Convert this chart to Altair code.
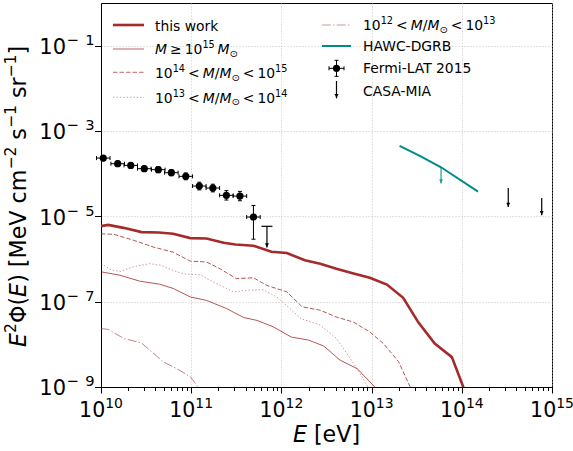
import altair as alt
import pandas as pd

FONT = "DejaVu Sans"
BROWN = "#a52a2a"
TEAL = "#008b8b"

# ---------------------------------------------------------------------------
# Data: log10 E [eV] and log10 E^2 Phi(E) [MeV cm^-2 s^-1 sr^-1]
# ---------------------------------------------------------------------------
total_logE = [10.0, 10.08, 10.25, 10.45, 10.64, 10.80, 10.99, 11.17, 11.36, 11.49,
              11.69, 11.89, 12.06, 12.26, 12.43, 12.61, 12.80, 12.98, 13.17, 13.35,
              13.52, 13.70, 13.89, 14.02]
total_logF = [-5.23, -5.20, -5.27, -5.37, -5.38, -5.41, -5.51, -5.52, -5.62, -5.66,
              -5.69, -5.83, -5.86, -6.03, -6.11, -6.23, -6.34, -6.44, -6.60, -6.91,
              -7.49, -7.98, -8.30, -9.02]

m15_logE = [10.0, 10.21, 10.43, 10.65, 10.80, 10.99, 11.17, 11.39, 11.58, 11.73,
            11.91, 12.11, 12.30, 12.47, 12.65, 12.84, 13.04]
m15_logF = [-6.30, -6.38, -6.52, -6.59, -6.69, -6.89, -6.97, -7.16, -7.37, -7.44,
            -7.59, -7.83, -7.90, -8.04, -8.37, -8.57, -9.01]

m14_logE = [10.0, 10.14, 10.36, 10.58, 10.80, 10.99, 11.17, 11.32, 11.50, 11.69,
            11.84, 12.06, 12.23, 12.43, 12.61, 12.80, 12.98, 13.13, 13.30, 13.43]
m14_logF = [-5.41, -5.42, -5.56, -5.72, -5.84, -6.05, -6.07, -6.23, -6.46, -6.44,
            -6.62, -6.77, -7.12, -7.20, -7.36, -7.48, -7.71, -7.98, -8.41, -9.01]

m13_logE = [10.0, 10.12, 10.22, 10.36, 10.54, 10.67, 10.80, 10.92, 11.10, 11.21,
            11.47, 11.65, 11.80, 11.95, 12.22, 12.43, 12.61, 12.84, 12.96]
m13_logF = [-6.11, -6.26, -6.29, -6.18, -6.11, -6.15, -6.27, -6.35, -6.37, -6.50,
            -6.77, -6.73, -6.72, -6.89, -7.40, -7.55, -7.86, -8.57, -9.01]

m12_logE = [10.0, 10.08, 10.25, 10.45, 10.69, 10.84, 10.99, 11.08]
m12_logF = [-7.63, -7.65, -7.86, -7.97, -8.41, -8.57, -8.76, -9.01]

hawc_logE = [13.31, 13.54, 13.77, 14.18]
hawc_logF = [-3.35, -3.59, -3.85, -4.42]
hawc_ul_logE = [13.77]
hawc_ul_top = [-3.85]
hawc_ul_tip = [-4.23]

fermi_logE = [10.025, 10.185, 10.33, 10.48, 10.635, 10.78, 10.94, 11.09, 11.24,
              11.39, 11.54, 11.69]
fermi_logF = [-3.635, -3.766, -3.806, -3.883, -3.906, -3.977, -4.063, -4.29, -4.337,
              -4.508, -4.525, -5.016]
fermi_err_up = [0.06, 0.06, 0.06, 0.06, 0.07, 0.07, 0.08, 0.09, 0.09, 0.11, 0.11, 0.27]
fermi_err_dn = [0.06, 0.06, 0.06, 0.06, 0.07, 0.07, 0.08, 0.09, 0.09, 0.11, 0.11, 0.52]
fermi_half_bin = 0.075
fermi_ul_logE = [11.84]
fermi_ul_top = [-5.234]
fermi_ul_tip = [-5.73]

casa_logE = [14.515, 14.886]
casa_top = [-4.337, -4.571]
casa_tip = [-4.782, -4.977]

x_tick_powers = [10, 11, 12, 13, 14, 15]
y_tick_powers = [-9, -7, -5, -3, -1]

# ---------------------------------------------------------------------------
W, H = 451, 384
PAD_L, PAD_T = 101, 3
x_scale = alt.Scale(type="log", domain=[1e10, 1e15], nice=False)
y_scale = alt.Scale(type="log", domain=[1e-9, 1e0], nice=False)

is_major = "abs(log(datum.value)/LN10 - round(log(datum.value)/LN10)) < 0.001"
x_values = [10.0 ** p for p in range(10, 16)] + [k * 10.0 ** p for p in range(10, 15) for k in range(2, 10)]
x_axis = alt.Axis(values=x_values, labels=False, title=None, grid=True,
                  tickSize={"condition": {"test": is_major, "value": 6}, "value": 3.5},
                  gridOpacity={"condition": {"test": is_major, "value": 1}, "value": 0})
y_axis = alt.Axis(values=[10.0 ** p for p in y_tick_powers], labels=False, title=None,
                  grid=True, tickSize=6.5)


def X(field):
    return alt.X(f"{field}:Q", scale=x_scale, axis=x_axis)


def Y(field):
    return alt.Y(f"{field}:Q", scale=y_scale, axis=y_axis)


def px(x):
    """page x -> view x"""
    return alt.value(x - PAD_L)


def py(y):
    """page y -> view y"""
    return alt.value(y - PAD_T)


def curve(logE, logF):
    return pd.DataFrame({"E": [10.0 ** v for v in logE], "F": [10.0 ** v for v in logF]})


def line(logE, logF, color, width, opacity=1.0, dash=None):
    kw = dict(color=color, strokeWidth=width, opacity=opacity, clip=True)
    if dash:
        kw["strokeDash"] = dash
    return alt.Chart(curve(logE, logF)).mark_line(**kw).encode(x=X("E"), y=Y("F"))


ARROW = "M0,0L-0.45,-1L0.45,-1Z"
HBAR = "M-1,0L1,0"
VBAR = "M0,-1L0,1"


def arrows(logE, top, tip, color, width=1.2, opacity=1.0, cap=None):
    df = pd.DataFrame({"E": [10.0 ** v for v in logE],
                       "top": [10.0 ** v for v in top],
                       "tip": [10.0 ** v for v in tip]})
    base = alt.Chart(df)
    out = [base.mark_rule(color=color, strokeWidth=width, opacity=opacity)
               .encode(x=X("E"), y=Y("top"), y2=alt.Y2("tip:Q")),
           base.mark_point(shape=ARROW, filled=True, size=72, color=color, opacity=opacity)
               .encode(x=X("E"), y=Y("tip"))]
    if cap:
        out.append(base.mark_point(shape=HBAR, filled=False, size=cap, stroke=color,
                                   strokeWidth=width, opacity=opacity)
                   .encode(x=X("E"), y=Y("top")))
    return out


layers = []

# model components
layers.append(line(m12_logE, m12_logF, BROWN, 1.0, 0.6, [8.9, 2.2, 1.4, 2.2]))
layers.append(line(m13_logE, m13_logF, BROWN, 1.0, 0.5, [1.4, 2.0]))
layers.append(line(m14_logE, m14_logF, BROWN, 1.0, 0.8, [4.5, 2.0]))
layers.append(line(m15_logE, m15_logF, BROWN, 1.0, 0.8))
layers.append(line(total_logE, total_logF, BROWN, 2.6))

# HAWC diffuse limit
layers.append(line(hawc_logE, hawc_logF, TEAL, 2.0))
layers += arrows(hawc_ul_logE, hawc_ul_top, hawc_ul_tip, TEAL, 1.4, 0.75)

# Fermi-LAT IGRB points with error bars
fermi = pd.DataFrame({
    "E": [10.0 ** v for v in fermi_logE],
    "F": [10.0 ** v for v in fermi_logF],
    "E_lo": [10.0 ** (v - fermi_half_bin) for v in fermi_logE],
    "E_hi": [10.0 ** (v + fermi_half_bin) for v in fermi_logE],
    "F_lo": [10.0 ** (v - d) for v, d in zip(fermi_logF, fermi_err_dn)],
    "F_hi": [10.0 ** (v + u) for v, u in zip(fermi_logF, fermi_err_up)],
})
fb = alt.Chart(fermi)
layers.append(fb.mark_rule(color="black", strokeWidth=1).encode(x=X("E_lo"), x2=alt.X2("E_hi:Q"), y=Y("F")))
layers.append(fb.mark_rule(color="black", strokeWidth=1).encode(x=X("E"), y=Y("F_lo"), y2=alt.Y2("F_hi:Q")))
for xf, yf, shp in [("E_lo", "F", VBAR), ("E_hi", "F", VBAR), ("E", "F_lo", HBAR), ("E", "F_hi", HBAR)]:
    layers.append(fb.mark_point(shape=shp, filled=False, size=16, stroke="black", strokeWidth=1, opacity=1)
                  .encode(x=X(xf), y=Y(yf)))
layers.append(fb.mark_point(shape="circle", filled=True, size=52, color="black", opacity=1)
              .encode(x=X("E"), y=Y("F")))
layers += arrows(fermi_ul_logE, fermi_ul_top, fermi_ul_tip, "black", 1.2, 1.0, cap=121)

# CASA-MIA upper limits
layers += arrows(casa_logE, casa_top, casa_tip, "black", 1.2)

# ---------------------------------------------------------------------------
# Text helpers (mathtext-like: italic symbols, super/subscripts)
# ---------------------------------------------------------------------------
GLYPH = {' ': 0.318, 'M': 0.863, '/': 0.337, '<': 0.838, '≥': 0.838, '⊙': 0.838,
         'E': 0.632, 'Φ': 0.790, '(': 0.390, ')': 0.390, '[': 0.390, ']': 0.390,
         'e': 0.615, 'V': 0.684, 'c': 0.550, 'm': 0.974, 's': 0.521, 'r': 0.411,
         '−': 0.838, '-': 0.361}
for d in "0123456789":
    GLYPH[d] = 0.636


def text_w(s, size):
    return sum(GLYPH.get(ch, 0.6) for ch in s) * size


one = pd.DataFrame({"k": [0]})


def rich(segments, x0, y0, size, vertical=False):
    """Lay out text pieces one after another; x0, y0 are page coordinates."""
    out, pos = [], 0.0
    for kind, s in segments:
        if kind == "sp":
            pos += s * size
            continue
        fs = size * (0.7 if kind in ("sup", "sub") else 1.0)
        lead = len(s) - len(s.lstrip(" "))
        pos += lead * GLYPH[" "] * fs
        s = s.lstrip(" ")
        shift = {"sup": -0.43 * size, "sub": 0.2 * size}.get(kind, 0.0)
        style = "italic" if kind == "it" else "normal"
        kw = dict(text=s, font=FONT, fontSize=fs, fontStyle=style, align="left",
                  baseline="alphabetic", color="black")
        if vertical:
            kw["angle"] = 270
            x, y = x0 + shift, y0 - pos
        else:
            x, y = x0 + pos, y0 + shift
        out.append(alt.Chart(one).mark_text(**kw).encode(x=px(x), y=py(y)))
        pos += text_w(s, fs)
    return out


def mass_bin(lo, hi):
    return [("rm", "10"), ("sup", str(lo)), ("sp", 0.22), ("rm", "<"), ("sp", 0.22),
            ("it", "M"), ("rm", "/"), ("it", "M"), ("sub", "⊙"), ("sp", 0.22),
            ("rm", "<"), ("sp", 0.22), ("rm", "10"), ("sup", str(hi))]


# tick labels
TICK_FS = 21
SUP_FS = 0.7 * TICK_FS
RAISE = 0.43 * TICK_FS
XT_FS = 20.5
XT_SUP = 0.68 * XT_FS
xt = pd.DataFrame({"E": [10.0 ** p for p in x_tick_powers], "base": "10",
                   "sup": [str(p) for p in x_tick_powers]})
x_tot = text_w("10", XT_FS) + text_w("10", XT_SUP)
layers.append(alt.Chart(xt).mark_text(font=FONT, fontSize=XT_FS, align="left", baseline="alphabetic",
                                      dx=-x_tot / 2, color="black")
              .encode(x=X("E"), y=py(417), text="base:N"))
layers.append(alt.Chart(xt).mark_text(font=FONT, fontSize=XT_SUP, align="left", baseline="alphabetic",
                                      dx=-x_tot / 2 + text_w("10", XT_FS), color="black")
              .encode(x=X("E"), y=py(417 - 0.43 * XT_FS), text="sup:N"))

# y labels: "10" + superscript minus sign + digit
yt = pd.DataFrame({"F": [10.0 ** p for p in y_tick_powers], "base": "10", "minus": "−",
                   "digit": [str(abs(p)) for p in y_tick_powers]})
Y_DY = 8.2
layers.append(alt.Chart(yt).mark_text(font=FONT, fontSize=TICK_FS, align="right", baseline="alphabetic",
                                      dy=Y_DY, color="black")
              .encode(x=px(66), y=Y("F"), text="base:N"))
layers.append(alt.Chart(yt).mark_text(font=FONT, fontSize=SUP_FS, align="left", baseline="alphabetic",
                                      dy=Y_DY - RAISE, color="black")
              .encode(x=px(66.5), y=Y("F"), text="minus:N"))
layers.append(alt.Chart(yt).mark_text(font=FONT, fontSize=SUP_FS, align="right", baseline="alphabetic",
                                      dy=Y_DY - RAISE, color="black")
              .encode(x=px(94.5), y=Y("F"), text="digit:N"))

# axis titles
TITLE_FS = 22.2
xt_segs = [("it", "E"), ("rm", " [eV]")]
xt_w = text_w("E [eV]", TITLE_FS)
layers += rich(xt_segs, PAD_L + W / 2 - xt_w / 2, 442, TITLE_FS)

yt_segs = [("it", "E"), ("sup", "2"), ("rm", "Φ("), ("it", "E"), ("rm", ")"), ("rm", " [MeV"),
           ("rm", " cm"), ("sup", "−2"), ("rm", " s"), ("sup", "−1"), ("rm", " sr"), ("sup", "−1"),
           ("rm", "]")]
layers += rich(yt_segs, 25.5, 347, TITLE_FS, vertical=True)

# ---------------------------------------------------------------------------
# Legend (two columns, no frame)
# ---------------------------------------------------------------------------
LEG_FS = 13.9


def leg_line(x1, x2, y, color, width, opacity=1.0, dash=None):
    kw = dict(color=color, strokeWidth=width, opacity=opacity)
    if dash:
        kw["strokeDash"] = dash
    return alt.Chart(one).mark_rule(**kw).encode(x=px(x1), x2=px(x2), y=py(y))


layers.append(leg_line(113, 144, 25, BROWN, 2.6))
layers.append(leg_line(113, 144, 49, BROWN, 1.2, 0.6))
layers.append(leg_line(113, 144, 72.3, BROWN, 1.0, 0.7, [4.5, 2.0]))
layers.append(leg_line(113, 144, 97.3, BROWN, 1.0, 0.5, [1.4, 2.0]))
layers.append(leg_line(322, 351, 25, BROWN, 1.0, 0.5, [8.9, 2.2, 1.4, 2.2]))
layers.append(leg_line(322, 351, 46, TEAL, 2.0))

# Fermi legend glyph
fx, fy = 336.5, 68.3
layers.append(alt.Chart(one).mark_rule(color="black", strokeWidth=1)
              .encode(x=px(fx - 7.5), x2=px(fx + 7.5), y=py(fy)))
layers.append(alt.Chart(one).mark_rule(color="black", strokeWidth=1)
              .encode(x=px(fx), y=py(fy - 8), y2=py(fy + 8)))
for cx, cy, shp in [(fx - 7.5, fy, VBAR), (fx + 7.5, fy, VBAR), (fx, fy - 8, HBAR), (fx, fy + 8, HBAR)]:
    layers.append(alt.Chart(one).mark_point(shape=shp, filled=False, size=16, stroke="black",
                                            strokeWidth=1, opacity=1)
                  .encode(x=px(cx), y=py(cy)))
layers.append(alt.Chart(one).mark_point(shape="circle", filled=True, size=52, color="black", opacity=1)
              .encode(x=px(fx), y=py(fy)))

# CASA-MIA legend glyph
layers.append(alt.Chart(one).mark_rule(color="black", strokeWidth=1.2)
              .encode(x=px(fx), y=py(81), y2=py(98.3)))
layers.append(alt.Chart(one).mark_point(shape=ARROW, filled=True, size=72, color="black", opacity=1)
              .encode(x=px(fx), y=py(98.3)))

layers += rich([("rm", "this work")], 155, 30.7, LEG_FS)
layers += rich([("it", "M"), ("sp", 0.22), ("rm", "≥"), ("sp", 0.22), ("rm", "10"), ("sup", "15"),
                ("sp", 0.2), ("it", "M"), ("sub", "⊙")], 155, 54.3, LEG_FS)
layers += rich(mass_bin(14, 15), 155, 78.2, LEG_FS)
layers += rich(mass_bin(13, 14), 155, 102.6, LEG_FS)
layers += rich(mass_bin(12, 13), 363, 30.2, LEG_FS)
layers += rich([("rm", "HAWC-DGRB")], 363, 51, LEG_FS)
layers += rich([("rm", "Fermi-LAT 2015")], 363, 73.3, LEG_FS)
layers += rich([("rm", "CASA-MIA")], 363, 96, LEG_FS)

chart = (
    alt.layer(*layers)
    .properties(width=W, height=H, background="white",
                padding={"left": PAD_L, "top": PAD_T, "right": 21, "bottom": 64},
                autosize=alt.AutoSizeParams(type="none"))
    .configure_view(stroke="black", strokeWidth=1)
    .configure_axis(domainColor="black", domainWidth=1, tickColor="black", tickWidth=1,
                    gridColor="#b8b8b8", gridDash=[1, 2], gridWidth=0.8)
)

chart.save("out.html", embed_options={"renderer": "svg", "actions": False})
